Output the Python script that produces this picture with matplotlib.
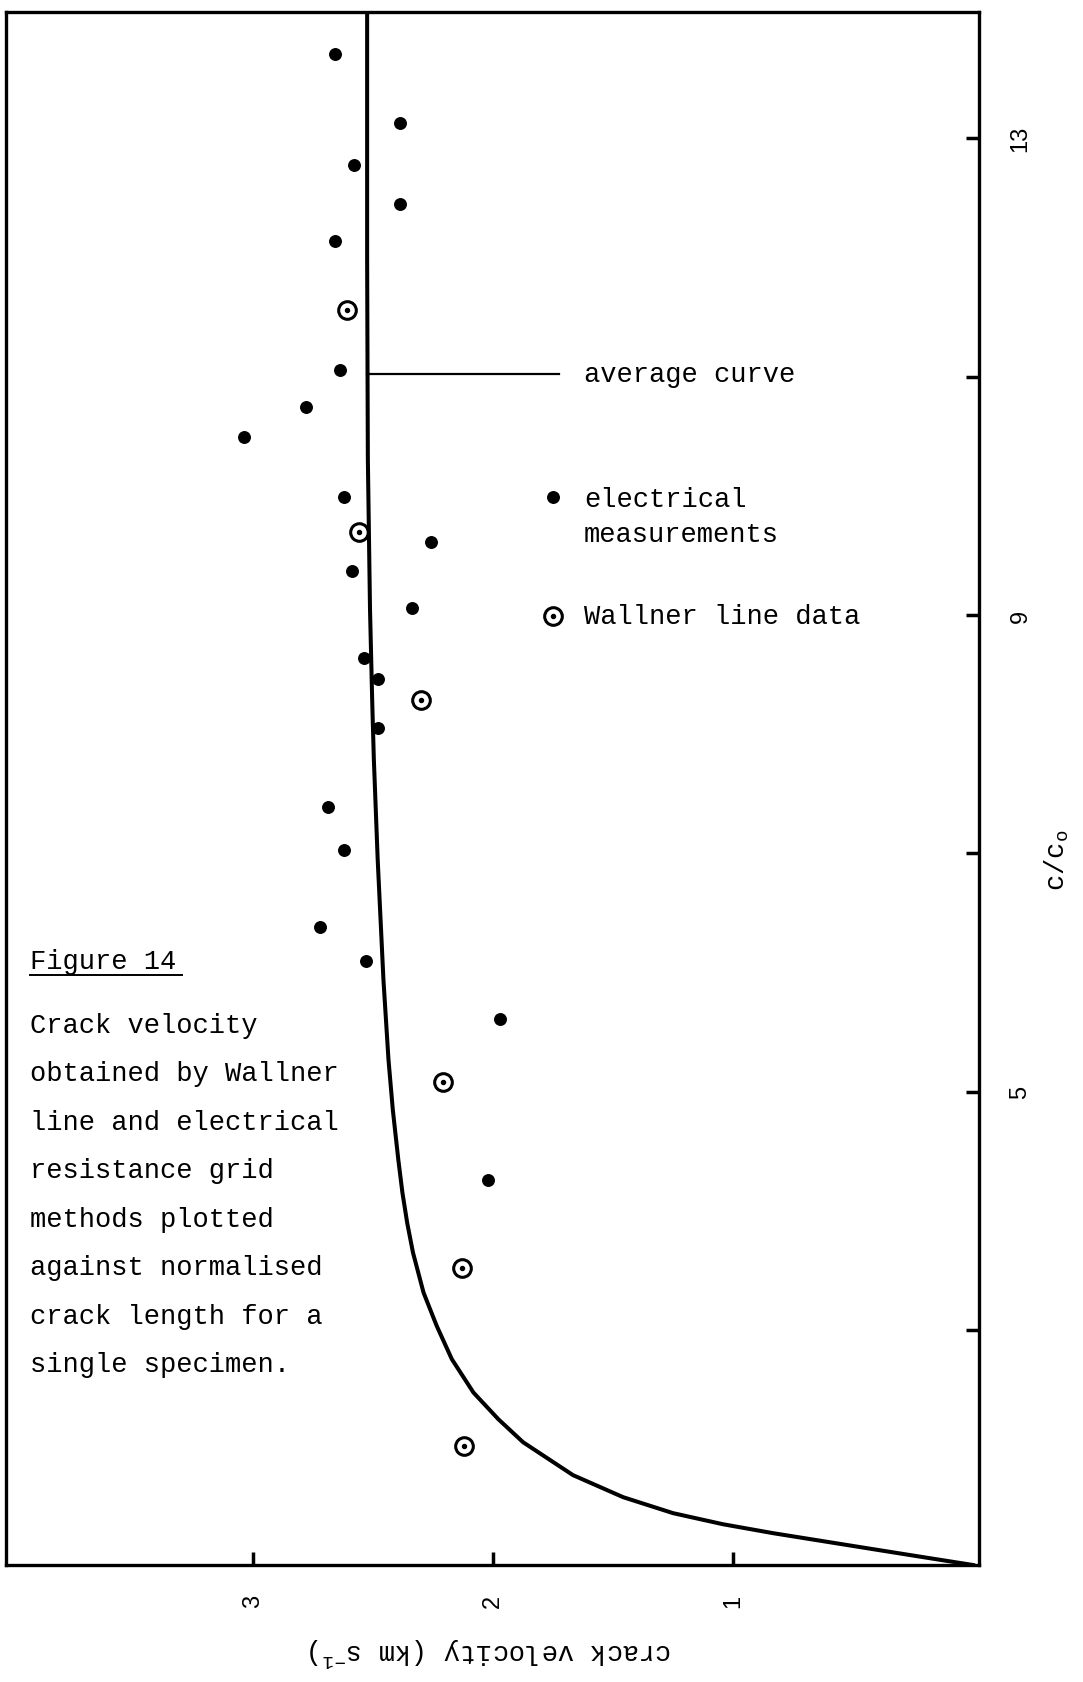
import matplotlib
matplotlib.use("Agg")
import matplotlib.pyplot as plt
from matplotlib.lines import Line2D

# chart is drawn rotated: velocity runs right -> left, c/c0 runs bottom -> top

# electrical resistance grid measurements
elec_v = [2.66, 2.39, 2.58, 2.39, 2.66, 2.64, 2.78, 3.04, 2.62, 2.26, 2.59,
          2.34, 2.54, 2.48, 2.48, 2.69, 2.62, 2.72, 2.53, 1.97, 2.02]
elec_c = [13.71, 13.13, 12.78, 12.45, 12.14, 11.06, 10.75, 10.49, 9.99, 9.61, 9.37,
          9.06, 8.64, 8.46, 8.05, 7.39, 7.03, 6.38, 6.10, 5.61, 4.26]

# Wallner line data
wall_v = [2.61, 2.56, 2.30, 2.21, 2.13, 2.12]
wall_c = [11.56, 9.70, 8.29, 5.08, 3.52, 2.03]

# average curve
curve_v = [0.0, 0.208, 0.417, 0.625, 0.833, 1.042, 1.250, 1.458, 1.667, 1.875,
           1.978, 2.082, 2.172, 2.235, 2.290, 2.334, 2.358, 2.378, 2.395, 2.418,
           2.436, 2.457, 2.481, 2.497, 2.504, 2.513, 2.522, 2.525, 2.525]
curve_c = [1.03, 1.096, 1.163, 1.230, 1.297, 1.372, 1.465, 1.599, 1.784, 2.060,
           2.253, 2.477, 2.757, 3.036, 3.316, 3.652, 3.90, 4.155, 4.43, 4.85,
           5.27, 5.94, 6.95, 7.79, 8.29, 9.05, 10.31, 12.0, 14.06]

v_ticks = [1, 2, 3]
v_labels = ['1', '2', '3']
c_ticks = [3, 5, 7, 9, 11, 13]
c_labels = ['', '5', '', '9', '', '13']

caption = ['Crack velocity', 'obtained by Wallner', 'line and electrical',
           'resistance grid', 'methods plotted', 'against normalised',
           'crack length for a', 'single specimen.']

mono = 'Liberation Mono'
plt.rcParams['mathtext.fontset'] = 'custom'
plt.rcParams['mathtext.rm'] = mono
plt.rcParams['mathtext.it'] = mono

W, H = 1083, 1683
fig = plt.figure(figsize=(W / 100, H / 100), dpi=100)
fig.patch.set_facecolor('white')


def fx(X):
    return X / W


def fy(Y):
    return 1 - Y / H


ax = fig.add_axes([fx(6), fy(1566), (979 - 6) / W, (1566 - 13) / H])

ax.plot(curve_v, curve_c, color='black', lw=2.9, solid_joinstyle='round', zorder=3)
ax.plot(elec_v, elec_c, 'o', color='black', ms=8.3, ls='none', zorder=4)
ax.plot(wall_v, wall_c, 'o', mfc='none', mec='black', mew=2.2, ms=12.7, ls='none', zorder=4)
ax.plot(wall_v, wall_c, 'o', color='black', ms=2.9, ls='none', zorder=4)

ax.set_xlim(4.03, -0.025)
ax.set_ylim(1.03, 14.06)

ax.yaxis.tick_right()
ax.set_xticks(v_ticks)
ax.set_xticklabels(v_labels)
ax.set_yticks(c_ticks)
ax.set_yticklabels(c_labels)
ax.tick_params(direction='in', length=9.5, width=2.5, labelsize=17)
ax.tick_params(axis='x', pad=21, labelrotation=90)
ax.tick_params(axis='y', pad=22, labelrotation=90)
for t in ax.get_xticklabels() + ax.get_yticklabels():
    t.set_family('Liberation Sans')
for t in ax.get_yticklabels():
    t.set_va('center')
for s in ax.spines.values():
    s.set_linewidth(2.4)

# axis titles
fig.text(fx(1057), fy(860), r'c/c$_\mathrm{o}$', family=mono, size=19.5,
         rotation=90, ha='center', va='center')
fig.text(fx(490), fy(1652), r'crack velocity (km s$^{\mathrm{-1}}$)', family=mono,
         size=19.5, rotation=180, ha='center', va='center')

# key
fig.add_artist(Line2D([fx(367), fx(559)], [fy(375), fy(375)],
                      transform=fig.transFigure, color='black', lw=1.6))
fig.text(fx(584), fy(375), 'average curve', family=mono, size=19.5, va='center')
fig.add_artist(Line2D([fx(552.5)], [fy(497.5)], transform=fig.transFigure,
                      marker='o', ms=8.3, color='black', ls='none'))
fig.text(fx(584), fy(500), 'electrical', family=mono, size=19.5, va='center')
fig.text(fx(584), fy(535), 'measurements', family=mono, size=19.5, va='center')
fig.add_artist(Line2D([fx(552.5)], [fy(617)], transform=fig.transFigure,
                      marker='o', ms=12.7, mfc='none', mec='black', mew=2.2, ls='none'))
fig.add_artist(Line2D([fx(552.5)], [fy(617)], transform=fig.transFigure,
                      marker='o', ms=2.9, color='black', ls='none'))
fig.text(fx(584), fy(617), 'Wallner line data', family=mono, size=19.5, va='center')

# caption
fig.text(fx(30), fy(962), 'Figure 14', family=mono, size=19.5, va='center')
fig.add_artist(Line2D([fx(30), fx(182)], [fy(976), fy(976)],
                      transform=fig.transFigure, color='black', lw=1.4))
for i, line in enumerate(caption):
    fig.text(fx(30), fy(1026 + i * 48.45), line, family=mono, size=19.5, va='center')

fig.savefig('out.png', dpi=100)
